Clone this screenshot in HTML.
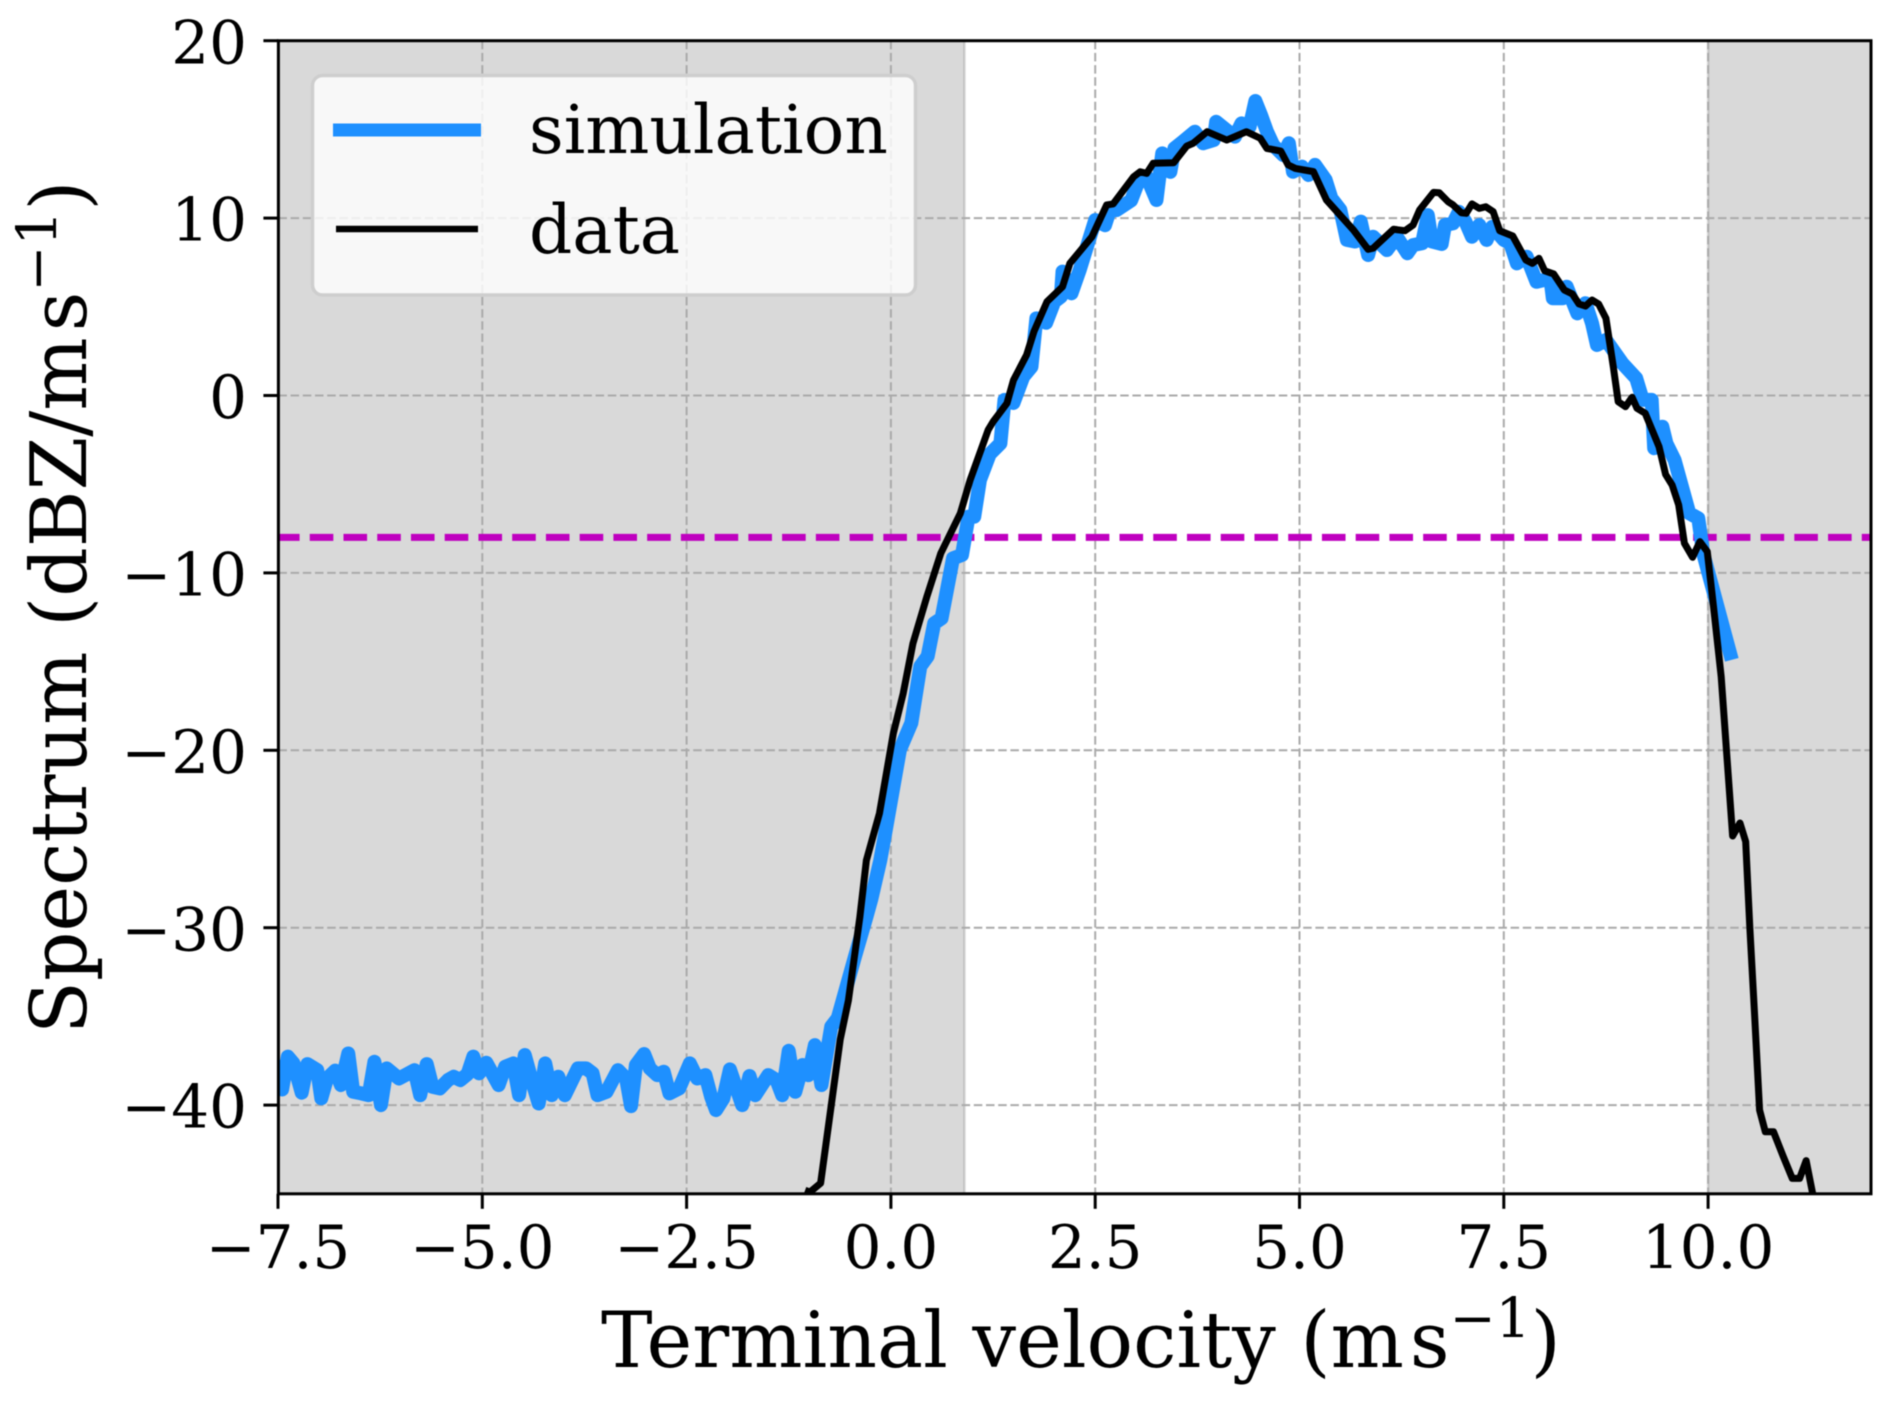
<!DOCTYPE html>
<html lang="en">
<head>
<meta charset="utf-8">
<title>Terminal velocity spectrum</title>
<style>
html,body{margin:0;padding:0;background:#fff;}
svg{display:block;filter:blur(0.6px);}
text{font-family:"DejaVu Serif","Liberation Serif",serif;fill:#000;}
</style>
</head>
<body>
<svg id="chart" xmlns="http://www.w3.org/2000/svg" width="1892" height="1403" viewBox="0 0 1892 1403">
  <defs>
    <clipPath id="plot-clip"><rect x="278.4" y="40.7" width="1592.6" height="1153.1"></rect></clipPath>
  </defs>
  <rect x="0" y="0" width="1892" height="1403" fill="#ffffff"></rect>
  <g id="shades" clip-path="url(#plot-clip)"></g>
  <g id="grid" clip-path="url(#plot-clip)"></g>
  <g id="series" clip-path="url(#plot-clip)"></g>
  <g id="ticks"></g>
  <rect x="278.4" y="40.7" width="1592.6" height="1153.1" fill="none" stroke="#000" stroke-width="3"></rect>
  <g>
    <rect x="312.5" y="75.5" width="603" height="219.5" rx="10" ry="10" fill="#ffffff" fill-opacity="0.8"></rect>
    <rect x="312.5" y="75.5" width="603" height="219.5" rx="10" ry="10" fill="none" stroke="#cecece" stroke-width="3.5"></rect>
    <line x1="333" y1="130" x2="481" y2="130" stroke="#1e90ff" stroke-width="13"></line>
    <text x="529" y="153" font-size="67.6">simulation</text>
    <line x1="336" y1="229" x2="478" y2="229" stroke="#000000" stroke-width="6.5"></line>
    <text x="529" y="253" font-size="67.6">data</text>
  </g>
  <text x="601" y="1367" font-size="77.3">Terminal velocity (m<tspan dx="6">s</tspan><tspan dy="-30" font-size="55">−1</tspan><tspan dy="30">)</tspan></text>
  <text transform="translate(86,1034) rotate(-90)" x="0" y="0" font-size="77.3">Spectrum (dBZ/m<tspan dx="6">s</tspan><tspan dy="-30" font-size="55">−1</tspan><tspan dy="30">)</tspan></text>
</svg>
<script>
const xTicks = [-7.5, -5, -2.5, 0, 2.5, 5, 7.5, 10];
const xTickLabels = ["−7.5", "−5.0", "−2.5", "0.0", "2.5", "5.0", "7.5", "10.0"];
const yTicks = [20, 10, 0, -10, -20, -30, -40];
const yTickLabels = ["20", "10", "0", "−10", "−20", "−30", "−40"];
const xLimits = [-7.5, 12];
const yLimits = [-45, 20];
const shadedLeft = [-7.5, 0.9];
const shadedRight = [10, 12];
const thresholdLevel = [-8];

const simVelocity = [-7.5,-7.45,-7.38,-7.31,-7.21,-7.14,-7.02,-6.97,-6.9,-6.8,-6.73,-6.64,-6.58,-6.48,-6.39,-6.32,-6.24,-6.17,-6.02,-5.83,-5.76,-5.68,-5.61,-5.52,-5.42,-5.35,-5.27,-5.18,-5.11,-5.04,-4.95,-4.8,-4.72,-4.62,-4.55,-4.48,-4.39,-4.31,-4.23,-4.15,-4.07,-3.99,-3.83,-3.73,-3.65,-3.59,-3.48,-3.34,-3.24,-3.18,-3.12,-3.02,-2.95,-2.86,-2.78,-2.71,-2.59,-2.46,-2.37,-2.27,-2.2,-2.14,-2.05,-1.97,-1.82,-1.73,-1.66,-1.5,-1.4,-1.33,-1.25,-1.17,-1.08,-1.01,-0.93,-0.85,-0.73,-0.65,-0.44,-0.3,-0.24,-0.13,-0.07,0.11,0.25,0.36,0.45,0.53,0.62,0.76,0.87,0.95,1.02,1.09,1.21,1.34,1.39,1.5,1.62,1.72,1.78,1.9,2.0,2.08,2.1,2.21,2.31,2.5,2.62,2.68,2.76,2.94,3.02,3.13,3.25,3.32,3.42,3.47,3.57,3.72,3.82,3.95,3.98,4.13,4.21,4.29,4.39,4.46,4.53,4.6,4.68,4.8,4.87,4.92,5.03,5.11,5.19,5.32,5.39,5.5,5.58,5.68,5.75,5.84,5.9,6.07,6.19,6.32,6.39,6.5,6.57,6.62,6.74,6.78,6.88,6.95,7.03,7.11,7.2,7.29,7.36,7.5,7.58,7.66,7.78,7.9,8.07,8.1,8.22,8.27,8.4,8.5,8.58,8.64,8.75,8.95,9.12,9.2,9.31,9.34,9.44,9.49,9.59,9.77,9.88,9.94,10.29];
const simSpectrum = [-37.46,-39.12,-37.27,-37.65,-39.3,-37.69,-38.03,-39.62,-38.5,-38.06,-38.87,-37.09,-39.25,-39.34,-39.44,-37.56,-40,-37.93,-38.5,-38.03,-39.44,-37.69,-38.97,-39.06,-38.59,-38.4,-38.59,-38.25,-37.27,-38.21,-37.61,-38.87,-37.84,-37.65,-39.44,-37.18,-38.68,-39.91,-37.65,-39.44,-38.4,-39.44,-37.93,-37.93,-38.21,-39.44,-39.25,-38.03,-38.5,-40.06,-37.74,-37.12,-37.93,-38.31,-38.12,-39.34,-39.06,-37.65,-38.5,-38.31,-39.53,-40.28,-39.62,-37.99,-40,-38.36,-39.44,-38.31,-38.59,-39.44,-36.94,-39.25,-37.74,-38.31,-36.62,-38.87,-35.58,-35.1,-31.63,-29.4,-28.4,-26.2,-24.68,-19.98,-18.46,-15.27,-14.7,-12.84,-12.56,-9.18,-8.99,-6.83,-6.83,-4.76,-3.3,-2.7,-0.25,-0.42,1.06,1.62,4.35,4.1,5.29,5.57,6.98,5.76,7.07,9.89,9.6,10.45,10.45,11,11.96,12.33,11.02,13.65,12.61,13.93,14.3,14.87,14.22,14.4,15.43,14.87,14.59,15.34,15.15,16.6,15.8,14.9,14.1,13.56,14.22,12.61,12.9,12.43,13,12.15,11.12,10.46,8.77,8.68,9.8,7.92,8.95,8.2,8.95,8.02,8.48,8.58,10.17,8.68,8.54,9.61,9.71,10.36,9.8,8.95,9.61,8.77,9.51,8.77,8.58,7.45,7.82,6.41,6.6,5.48,5.48,6.13,4.63,5.2,4.07,2.85,3.13,1.82,0.97,-0.25,-0.25,-2.97,-1.76,-2.7,-3.64,-6.64,-6.92,-8.9,-14.9];

const dataVelocity = [-1.05,-0.99,-0.86,-0.62,-0.52,-0.38,-0.3,-0.14,0.03,0.15,0.27,0.44,0.61,0.85,0.97,1.19,1.25,1.42,1.5,1.66,1.75,1.91,2.1,2.19,2.46,2.64,2.72,2.97,3.05,3.13,3.21,3.46,3.62,3.7,3.87,4.11,4.35,4.52,4.6,4.77,4.86,4.95,5.17,5.33,5.66,5.84,5.9,6.15,6.29,6.39,6.47,6.64,6.71,6.82,6.88,6.98,7.04,7.11,7.2,7.28,7.37,7.45,7.61,7.77,7.85,7.93,8.0,8.11,8.24,8.34,8.42,8.5,8.58,8.66,8.75,8.84,8.9,8.99,9.07,9.13,9.23,9.4,9.48,9.56,9.64,9.71,9.81,9.9,9.99,10.08,10.16,10.3,10.39,10.46,10.51,10.57,10.63,10.7,10.8,10.92,11.03,11.12,11.2,11.28,11.35];
const dataSpectrum = [-44.8,-44.9,-44.4,-36.3,-34.1,-29.4,-26.2,-23.55,-19.04,-16.8,-13.97,-11.34,-8.9,-6.64,-4.76,-1.94,-1.48,-0.44,0.87,2.28,3.6,5.29,6.13,7.45,8.95,10.74,10.8,12.33,12.61,12.52,13.09,13.12,14.06,14.22,14.87,14.4,14.87,14.5,13.93,13.78,13,12.8,12.62,11.02,9.33,8.24,8.3,9.37,9.29,9.61,10.46,11.45,11.43,10.92,10.74,10.3,10.27,10.8,10.55,10.64,10.36,9.29,8.99,7.64,7.45,7.73,7.03,6.85,5.95,5.72,5.16,5.04,5.38,5.16,4.35,1.62,-0.35,-0.63,-0.1,-0.72,-1,-2.89,-4.45,-5.05,-6.17,-8.33,-9.12,-8.24,-8.8,-12.47,-15.85,-24.83,-24.1,-25.15,-29.94,-35,-40.28,-41.5,-41.5,-42.9,-44.13,-44.13,-43.13,-45,-46];

const plotLeft = 278.4, plotRight = 1871, plotTop = 40.7, plotBottom = 1193.8;
const SVG_NS = "http://www.w3.org/2000/svg";
function xScale(v){ return 278 + (v - xLimits[0]) * 81.72; }
function yScale(v){ return plotTop + (yLimits[1] - v) * (plotBottom - plotTop) / (yLimits[1] - yLimits[0]); }
function make(tag, attrs){
  const el = document.createElementNS(SVG_NS, tag);
  for (const k in attrs) el.setAttribute(k, attrs[k]);
  return el;
}
function pathFrom(xs, ys){
  return xs.map((v, i) => xScale(v).toFixed(2) + "," + yScale(ys[i]).toFixed(2)).join(" ");
}

const shades = document.getElementById("shades");
const grid = document.getElementById("grid");
const series = document.getElementById("series");
const ticks = document.getElementById("ticks");

[shadedLeft, shadedRight].forEach(function(span, i){
  const r = make("rect", {x: xScale(span[0]), y: plotTop - 4, width: xScale(span[1]) - xScale(span[0]), height: plotBottom - plotTop + 8, fill: "#808080", "fill-opacity": 0.3, stroke: "#808080", "stroke-opacity": 0.3, "stroke-width": 2.5});
  
  
  shades.appendChild(r);
});

xTicks.forEach(function(v, i){
  const px = xScale(v);
  const g = make("line", {x1: px, y1: plotTop, x2: px, y2: plotBottom, stroke: "#aaaaaa", "stroke-width": 2, "stroke-dasharray": "8.5 3.7"});
  
  
  grid.appendChild(g);
  const t = make("line", {x1: px, y1: plotBottom, x2: px, y2: plotBottom + 15, stroke: "#000", "stroke-width": 3});
  
  
  ticks.appendChild(t);
  const l = make("text", {x: px, y: 1268, "font-size": 59.5, "text-anchor": "middle"});
  
  
  l.textContent = xTickLabels[i];
  ticks.appendChild(l);
});

yTicks.forEach(function(v, i){
  const py = yScale(v);
  const g = make("line", {x1: plotLeft, y1: py, x2: plotRight, y2: py, stroke: "#aaaaaa", "stroke-width": 2, "stroke-dasharray": "8.5 3.7"});
  
  
  grid.appendChild(g);
  const t = make("line", {x1: plotLeft - 15, y1: py, x2: plotLeft, y2: py, stroke: "#000", "stroke-width": 3});
  
  
  ticks.appendChild(t);
  const l = make("text", {x: 247, y: py + 22.6, "font-size": 59.5, "text-anchor": "end"});
  
  
  l.textContent = yTickLabels[i];
  ticks.appendChild(l);
});

const threshold = make("line", {x1: plotLeft, y1: yScale(thresholdLevel[0]), x2: plotRight, y2: yScale(thresholdLevel[0]), stroke: "#bf00bf", "stroke-width": 7, "stroke-dasharray": "23.6 10.14", "stroke-dashoffset": 2.4});


series.appendChild(threshold);

const simLine = make("polyline", {points: pathFrom(simVelocity, simSpectrum), fill: "none", stroke: "#1e90ff", "stroke-width": 14, "stroke-linejoin": "round", "stroke-linecap": "butt"});


series.appendChild(simLine);

const dataLine = make("polyline", {points: pathFrom(dataVelocity, dataSpectrum), fill: "none", stroke: "#000000", "stroke-width": 7, "stroke-linejoin": "round", "stroke-linecap": "butt"});


series.appendChild(dataLine);
</script>
</body>
</html>
